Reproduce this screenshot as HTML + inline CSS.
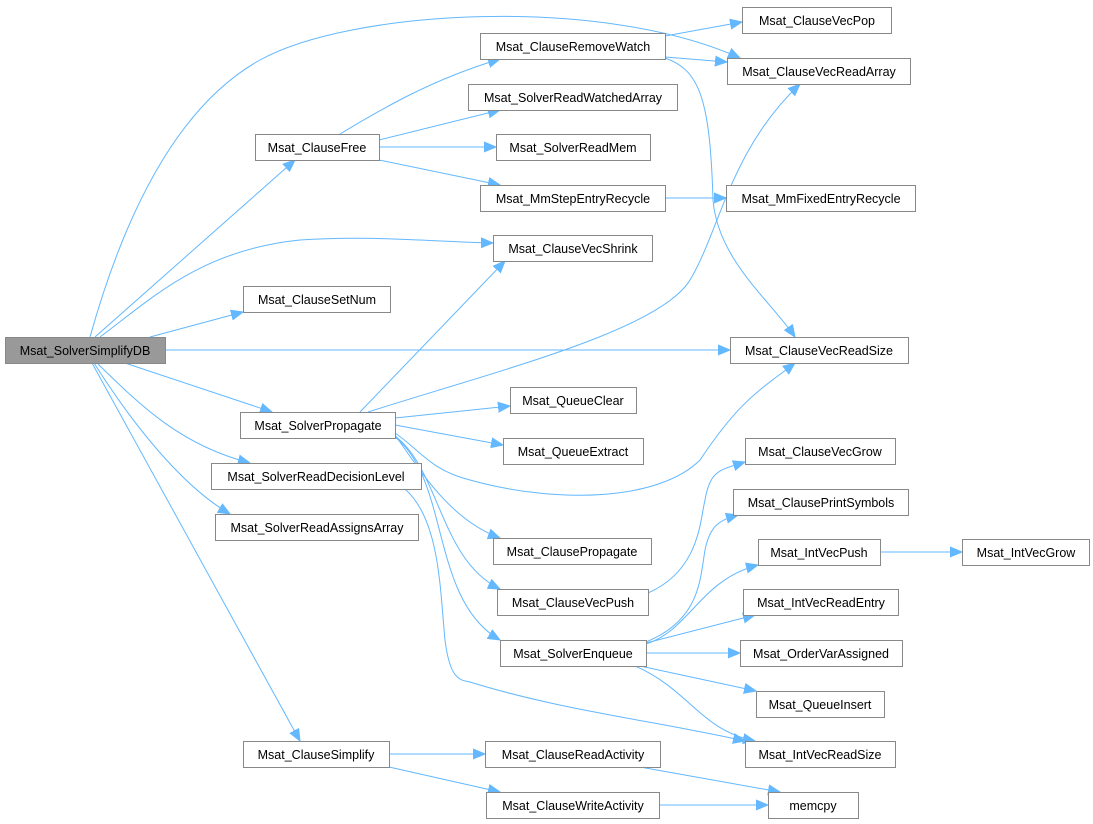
<!DOCTYPE html>
<html><head><meta charset="utf-8"><style>
html,body{margin:0;padding:0;background:#fff;}
svg{display:block;}
text{font-family:"Liberation Sans",Arial,sans-serif;font-size:12.5px;fill:#000;}
rect{fill:#fff;stroke:#888;stroke-width:1;}
path{fill:none;stroke:#63b8ff;stroke-width:1;}
</style></head><body>
<svg width="1093" height="824" viewBox="0 0 1093 824" xmlns="http://www.w3.org/2000/svg">
<defs><marker id="a" markerUnits="userSpaceOnUse" markerWidth="14" markerHeight="12" refX="12" refY="6" orient="auto"><polygon points="0,1 12,6 0,11" fill="#63b8ff" stroke="#63b8ff"/></marker></defs>
<g marker-end="url(#a)">
<path d="M90,337 C120,230 170,110 260,60 C350,10 600,-5 740,58"/>
<path d="M95,337 L295,160"/>
<path d="M100,337 C150,300 200,250 300,240 C370,235 440,242 493,243"/>
<path d="M150,337 L243,312"/>
<path d="M165,350 L730,350"/>
<path d="M125,363 L272,412"/>
<path d="M97,363 C140,405 180,445 250,463"/>
<path d="M94,363 C130,420 180,485 230,514"/>
<path d="M92,363 L300,741"/>
<path d="M340,134 C380,110 430,80 500,59"/>
<path d="M379,140 L500,110"/>
<path d="M379,147 L496,147"/>
<path d="M379,160 L500,185"/>
<path d="M665,36 L742,22"/>
<path d="M665,57 L727,62"/>
<path d="M665,58 C700,70 710,100 713,200 C718,260 770,300 795,337"/>
<path d="M665,198 L726,198"/>
<path d="M360,412 L505,261"/>
<path d="M368,412 C500,370 660,330 690,280 C720,230 730,150 800,84"/>
<path d="M395,418 L510,406"/>
<path d="M395,425 L503,445"/>
<path d="M395,433 C420,450 430,470 470,480 C560,505 660,500 700,460 C740,400 760,390 795,363"/>
<path d="M395,435 C420,470 450,520 500,538"/>
<path d="M395,436 C440,470 440,560 500,589"/>
<path d="M395,437 C450,480 430,600 500,640"/>
<path d="M405,489 C440,520 440,590 445,640 C450,680 460,680 470,682 C560,710 650,720 745,741"/>
<path d="M648,593 C700,570 700,520 705,500 C710,470 720,470 745,462"/>
<path d="M646,642 C700,620 700,580 705,550 C710,525 720,520 738,515"/>
<path d="M646,644 C690,630 700,580 758,565"/>
<path d="M646,643 L755,615"/>
<path d="M646,653 L740,653"/>
<path d="M640,666 L756,691"/>
<path d="M635,666 C690,690 700,730 755,741"/>
<path d="M880,552 L962,552"/>
<path d="M389,754 L485,754"/>
<path d="M389,767 L500,792"/>
<path d="M640,767 L780,792"/>
<path d="M659,805 L768,805"/>
</g>
<g text-anchor="middle">
<rect x="5.5" y="337.5" width="160" height="26" style="fill:#999"/><text x="85" y="355">Msat_SolverSimplifyDB</text>
<rect x="255.5" y="134.5" width="124" height="26"/><text x="317" y="152">Msat_ClauseFree</text>
<rect x="243.5" y="286.5" width="147" height="26"/><text x="317" y="304">Msat_ClauseSetNum</text>
<rect x="240.5" y="412.5" width="155" height="26"/><text x="318" y="430">Msat_SolverPropagate</text>
<rect x="211.5" y="463.5" width="210" height="26"/><text x="316" y="481">Msat_SolverReadDecisionLevel</text>
<rect x="215.5" y="514.5" width="203" height="26"/><text x="317" y="532">Msat_SolverReadAssignsArray</text>
<rect x="243.5" y="741.5" width="146" height="26"/><text x="316" y="759">Msat_ClauseSimplify</text>
<rect x="480.5" y="33.5" width="185" height="26"/><text x="573" y="51">Msat_ClauseRemoveWatch</text>
<rect x="468.5" y="84.5" width="209" height="26"/><text x="573" y="102">Msat_SolverReadWatchedArray</text>
<rect x="496.5" y="134.5" width="154" height="26"/><text x="573" y="152">Msat_SolverReadMem</text>
<rect x="480.5" y="185.5" width="185" height="26"/><text x="573" y="203">Msat_MmStepEntryRecycle</text>
<rect x="493.5" y="235.5" width="159" height="26"/><text x="573" y="253">Msat_ClauseVecShrink</text>
<rect x="510.5" y="387.5" width="126" height="26"/><text x="573" y="405">Msat_QueueClear</text>
<rect x="503.5" y="438.5" width="140" height="26"/><text x="573" y="456">Msat_QueueExtract</text>
<rect x="493.5" y="538.5" width="158" height="26"/><text x="572" y="556">Msat_ClausePropagate</text>
<rect x="497.5" y="589.5" width="151" height="26"/><text x="573" y="607">Msat_ClauseVecPush</text>
<rect x="500.5" y="640.5" width="146" height="26"/><text x="573" y="658">Msat_SolverEnqueue</text>
<rect x="485.5" y="741.5" width="175" height="26"/><text x="573" y="759">Msat_ClauseReadActivity</text>
<rect x="486.5" y="792.5" width="173" height="26"/><text x="573" y="810">Msat_ClauseWriteActivity</text>
<rect x="742.5" y="7.5" width="149" height="26"/><text x="817" y="25">Msat_ClauseVecPop</text>
<rect x="727.5" y="58.5" width="183" height="26"/><text x="819" y="76">Msat_ClauseVecReadArray</text>
<rect x="726.5" y="185.5" width="189" height="26"/><text x="821" y="203">Msat_MmFixedEntryRecycle</text>
<rect x="730.5" y="337.5" width="178" height="26"/><text x="819" y="355">Msat_ClauseVecReadSize</text>
<rect x="745.5" y="438.5" width="150" height="26"/><text x="820" y="456">Msat_ClauseVecGrow</text>
<rect x="733.5" y="489.5" width="175" height="26"/><text x="821" y="507">Msat_ClausePrintSymbols</text>
<rect x="758.5" y="539.5" width="122" height="26"/><text x="819" y="557">Msat_IntVecPush</text>
<rect x="743.5" y="589.5" width="155" height="26"/><text x="821" y="607">Msat_IntVecReadEntry</text>
<rect x="740.5" y="640.5" width="162" height="26"/><text x="821" y="658">Msat_OrderVarAssigned</text>
<rect x="756.5" y="691.5" width="128" height="26"/><text x="820" y="709">Msat_QueueInsert</text>
<rect x="745.5" y="741.5" width="150" height="26"/><text x="820" y="759">Msat_IntVecReadSize</text>
<rect x="768.5" y="792.5" width="90" height="26"/><text x="813" y="810">memcpy</text>
<rect x="962.5" y="539.5" width="127" height="26"/><text x="1026" y="557">Msat_IntVecGrow</text>
</g>
</svg>
</body></html>
